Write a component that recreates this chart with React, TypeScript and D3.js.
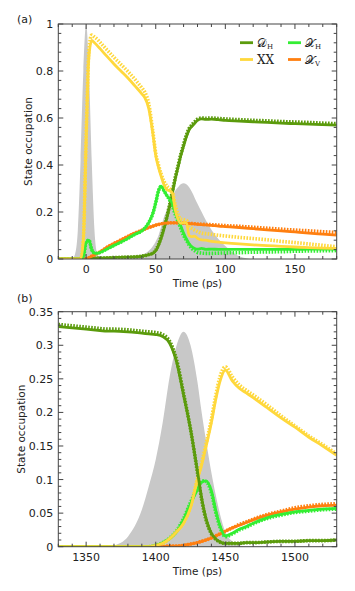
import React, { useEffect, useRef } from "react";
import * as d3 from "d3";

// ---- panel (a) data: time grid (ps) and occupations ----
const aTime = [-20, -10, -8, -6, -4, -2, 0, 2, 4, 6, 8, 10, 15, 20, 25, 30, 35, 40, 42, 45, 48, 50, 52, 54, 56, 58, 60, 62, 64, 66, 68, 70, 72, 74, 76, 78, 80, 83, 86, 90, 95, 100, 110, 120, 130, 140, 150, 160, 170, 180];
const aPulse = [0, 0, 0.02, 0.12, 0.42, 0.8, 1, 0.8, 0.42, 0.12, 0.02, 0, 0, 0, 0, 0, 0.003, 0.015, 0.022, 0.035, 0.055, 0.075, 0.1, 0.14, 0.18, 0.21, 0.24, 0.265, 0.29, 0.305, 0.318, 0.322, 0.318, 0.305, 0.285, 0.26, 0.235, 0.2, 0.165, 0.125, 0.085, 0.055, 0.012, 0, 0, 0, 0, 0, 0, 0];
const aXX = [0, 0, 0, 0, 0, 0.08, 0.5, 0.86, 0.93, 0.92, 0.908, 0.895, 0.862, 0.83, 0.8, 0.77, 0.737, 0.703, 0.688, 0.64, 0.53, 0.44, 0.39, 0.35, 0.315, 0.295, 0.29, 0.28, 0.21, 0.17, 0.152, 0.155, 0.155, 0.1, 0.095, 0.097, 0.088, 0.081, 0.08, 0.075, 0.072, 0.069, 0.064, 0.06, 0.057, 0.054, 0.051, 0.048, 0.046, 0.045];
const aXXdot = [0, 0, 0, 0, 0, 0.08, 0.52, 0.89, 0.953, 0.945, 0.935, 0.922, 0.89, 0.858, 0.828, 0.798, 0.765, 0.728, 0.712, 0.66, 0.54, 0.45, 0.4, 0.36, 0.33, 0.31, 0.3, 0.285, 0.23, 0.19, 0.17, 0.168, 0.165, 0.14, 0.13, 0.123, 0.117, 0.11, 0.108, 0.105, 0.101, 0.098, 0.092, 0.087, 0.082, 0.075, 0.07, 0.064, 0.058, 0.052];
const aDH = [0, 0, 0, 0, 0, 0, 0, 0.002, 0.003, 0.003, 0.004, 0.004, 0.005, 0.006, 0.007, 0.008, 0.009, 0.012, 0.014, 0.018, 0.024, 0.035, 0.058, 0.09, 0.13, 0.175, 0.225, 0.282, 0.34, 0.39, 0.44, 0.48, 0.52, 0.55, 0.565, 0.578, 0.59, 0.596, 0.594, 0.595, 0.593, 0.59, 0.587, 0.584, 0.581, 0.578, 0.576, 0.574, 0.572, 0.57];
const aDHdot = [0, 0, 0, 0, 0, 0, 0, 0.002, 0.003, 0.003, 0.004, 0.004, 0.005, 0.006, 0.007, 0.008, 0.009, 0.012, 0.014, 0.019, 0.026, 0.038, 0.062, 0.095, 0.135, 0.18, 0.232, 0.29, 0.346, 0.396, 0.446, 0.487, 0.527, 0.556, 0.571, 0.584, 0.595, 0.6, 0.599, 0.6, 0.598, 0.596, 0.593, 0.59, 0.588, 0.585, 0.583, 0.581, 0.578, 0.576];
const aXH = [0, 0, 0, 0, 0, 0.01, 0.07, 0.08, 0.04, 0.025, 0.024, 0.028, 0.043, 0.058, 0.072, 0.088, 0.105, 0.12, 0.13, 0.155, 0.195, 0.24, 0.29, 0.31, 0.29, 0.27, 0.255, 0.235, 0.2, 0.17, 0.14, 0.11, 0.085, 0.065, 0.052, 0.045, 0.042, 0.045, 0.041, 0.042, 0.041, 0.041, 0.041, 0.041, 0.041, 0.041, 0.041, 0.042, 0.042, 0.042];
const aXHdot = [0, 0, 0, 0, 0, 0.01, 0.07, 0.08, 0.04, 0.025, 0.024, 0.028, 0.043, 0.058, 0.072, 0.088, 0.105, 0.12, 0.13, 0.155, 0.195, 0.24, 0.29, 0.31, 0.29, 0.27, 0.25, 0.225, 0.19, 0.16, 0.13, 0.1, 0.08, 0.06, 0.045, 0.035, 0.028, 0.025, 0.024, 0.024, 0.025, 0.026, 0.027, 0.029, 0.03, 0.031, 0.033, 0.034, 0.035, 0.036];
const aXV = [0, 0, 0, 0, 0, 0, 0, 0.005, 0.012, 0.018, 0.024, 0.03, 0.05, 0.066, 0.081, 0.096, 0.11, 0.122, 0.127, 0.134, 0.14, 0.144, 0.147, 0.15, 0.152, 0.153, 0.154, 0.154, 0.154, 0.154, 0.153, 0.153, 0.152, 0.151, 0.15, 0.149, 0.147, 0.146, 0.145, 0.143, 0.14, 0.138, 0.134, 0.129, 0.124, 0.12, 0.115, 0.11, 0.106, 0.102];
const aXVdot = [0, 0, 0, 0, 0, 0, 0, 0.005, 0.012, 0.018, 0.024, 0.03, 0.05, 0.066, 0.081, 0.096, 0.11, 0.122, 0.127, 0.134, 0.14, 0.144, 0.147, 0.15, 0.152, 0.153, 0.154, 0.154, 0.154, 0.154, 0.153, 0.153, 0.152, 0.151, 0.151, 0.15, 0.149, 0.148, 0.147, 0.146, 0.144, 0.142, 0.139, 0.135, 0.131, 0.127, 0.123, 0.12, 0.116, 0.113];

// ---- panel (b) data ----
const bTime = [1330, 1340, 1350, 1360, 1365, 1370, 1380, 1390, 1395, 1400, 1405, 1410, 1415, 1420, 1425, 1430, 1433, 1436, 1440, 1443, 1446, 1450, 1455, 1460, 1465, 1470, 1480, 1490, 1500, 1510, 1520, 1530];
const bPulse = [0, 0, 0, 0, 0, 0.002, 0.015, 0.055, 0.09, 0.13, 0.185, 0.253, 0.3, 0.32, 0.3, 0.245, 0.2, 0.16, 0.11, 0.078, 0.05, 0.022, 0.008, 0.002, 0, 0, 0, 0, 0, 0, 0, 0];
const bDH = [0.328, 0.326, 0.324, 0.322, 0.321, 0.321, 0.32, 0.318, 0.317, 0.316, 0.313, 0.303, 0.275, 0.226, 0.175, 0.112, 0.072, 0.043, 0.02, 0.012, 0.0075, 0.005, 0.005, 0.005, 0.006, 0.006, 0.007, 0.008, 0.008, 0.009, 0.009, 0.01];
const bDHdot = [0.331, 0.329, 0.327, 0.325, 0.324, 0.324, 0.323, 0.321, 0.32, 0.319, 0.316, 0.306, 0.278, 0.228, 0.175, 0.11, 0.07, 0.041, 0.019, 0.011, 0.007, 0.005, 0.005, 0.005, 0.006, 0.006, 0.007, 0.008, 0.008, 0.009, 0.009, 0.01];
const bXX = [0, 0, 0, 0, 0, 0, 0, 0, 0, 0.002, 0.005, 0.012, 0.022, 0.035, 0.058, 0.1, 0.122, 0.148, 0.185, 0.218, 0.245, 0.263, 0.247, 0.236, 0.229, 0.222, 0.207, 0.192, 0.178, 0.163, 0.15, 0.136];
const bXXdot = [0, 0, 0, 0, 0, 0, 0, 0, 0, 0.002, 0.005, 0.012, 0.023, 0.036, 0.06, 0.102, 0.125, 0.152, 0.19, 0.224, 0.252, 0.268, 0.253, 0.241, 0.233, 0.226, 0.211, 0.195, 0.18, 0.165, 0.152, 0.138];
const bXH = [0, 0, 0, 0, 0, 0, 0, 0, 0, 0.002, 0.006, 0.012, 0.022, 0.04, 0.064, 0.085, 0.096, 0.098, 0.083, 0.055, 0.032, 0.016, 0.02, 0.026, 0.03, 0.035, 0.043, 0.048, 0.052, 0.054, 0.056, 0.057];
const bXHdot = [0, 0, 0, 0, 0, 0, 0, 0, 0, 0.002, 0.006, 0.013, 0.024, 0.042, 0.066, 0.087, 0.098, 0.097, 0.08, 0.052, 0.03, 0.015, 0.019, 0.025, 0.029, 0.034, 0.042, 0.047, 0.051, 0.053, 0.055, 0.056];
const bXV = [0, 0, 0, 0, 0, 0, 0, 0, 0, 0, 0, 0.001, 0.001, 0.002, 0.004, 0.006, 0.008, 0.01, 0.013, 0.016, 0.019, 0.023, 0.028, 0.032, 0.036, 0.04, 0.047, 0.052, 0.056, 0.059, 0.061, 0.062];
const bXVdot = [0, 0, 0, 0, 0, 0, 0, 0, 0, 0, 0, 0.001, 0.001, 0.002, 0.004, 0.006, 0.008, 0.01, 0.013, 0.016, 0.019, 0.023, 0.028, 0.033, 0.037, 0.041, 0.048, 0.053, 0.058, 0.061, 0.063, 0.064];

// ---- ticks ----
const aXTicks = [0, 50, 100, 150];
const aYTicks = [0, 0.2, 0.4, 0.6, 0.8, 1];
const aYTickLabels = ["0", "0.2", "0.4", "0.6", "0.8", "1"];
const bXTicks = [1350, 1400, 1450, 1500];
const bYTicks = [0, 0.05, 0.1, 0.15, 0.2, 0.25, 0.3, 0.35];
const bYTickLabels = ["0", "0.05", "0.1", "0.15", "0.2", "0.25", "0.3", "0.35"];

const legendLabels = ["𝒟", "𝒳", "XX", "𝒳"];
const legendSubs = ["H", "H", "", "V"];

const C_DH = "#5b9b0c";
const C_XH = "#33ee33";
const C_XX = "#ffd83c";
const C_XV = "#ff7f10";
const C_PULSE = "#c8c8c8";
const AXIS = "#444";

const App = () => {
  const svgRef = useRef<SVGSVGElement>(null);

  useEffect(() => {
    const svg = d3.select(svgRef.current);
    svg.selectAll("*").remove();

    const drawPanel = (opts: any) => {
      const { top, xDomain, yDomain, xTicks, xMinor, yTicks, yLabels, yMinor, time, pulse, series, tag, tagY, id } = opts;
      const left = 58.3;
      const width = 278.4;
      const height = 235;

      const x = d3.scaleLinear().domain(xDomain).range([left, left + width]);
      const y = d3.scaleLinear().domain(yDomain).range([top + height, top]);

      svg.append("defs")
        .append("clipPath")
        .attr("id", id)
        .append("rect")
        .attr("x", left)
        .attr("y", top - 2)
        .attr("width", width)
        .attr("height", height + 2);

      const plot = svg.append("g").attr("clip-path", `url(#${id})`);

      // excitation pulse
      const area = d3
        .area<number>()
        .x((d, i) => x(time[i]))
        .y0(y(0))
        .y1((d) => y(d))
        .curve(d3.curveMonotoneX);
      plot.append("path").datum(pulse).attr("fill", C_PULSE).attr("d", area);

      const line = d3
        .line<number>()
        .x((d, i) => x(time[i]))
        .y((d) => y(d))
        .curve(d3.curveMonotoneX);

      // dotted curves under the solid ones
      series.forEach((s: any) => {
        plot.append("path")
          .datum(s.dot)
          .attr("fill", "none")
          .attr("stroke", s.color)
          .attr("stroke-width", 3.6)
          .attr("stroke-dasharray", "1.6,1.4")
          .attr("d", line);
      });
      series.forEach((s: any) => {
        plot.append("path")
          .datum(s.values)
          .attr("fill", "none")
          .attr("stroke", s.color)
          .attr("stroke-width", 2.8)
          .attr("stroke-linejoin", "round")
          .attr("d", line);
      });

      // frame and inward ticks on all sides
      const axes = svg.append("g").attr("stroke", AXIS).attr("stroke-width", 1);
      axes.append("rect")
        .attr("x", left)
        .attr("y", top)
        .attr("width", width)
        .attr("height", height)
        .attr("fill", "none");

      const xMinorTicks = d3.range(xDomain[0], xDomain[1] + 0.001, xMinor);
      xMinorTicks.forEach((t: number) => {
        const len = xTicks.includes(t) ? 5 : 3;
        axes.append("line").attr("x1", x(t)).attr("x2", x(t)).attr("y1", top + height).attr("y2", top + height - len);
        axes.append("line").attr("x1", x(t)).attr("x2", x(t)).attr("y1", top).attr("y2", top + len);
      });
      const yMinorTicks = d3.range(0, Math.round((yDomain[1] - yDomain[0]) / yMinor) + 1).map((k) => yDomain[0] + k * yMinor);
      yMinorTicks.forEach((v: number) => {
        const major = yTicks.some((t: number) => Math.abs(t - v) < 1e-9);
        const len = major ? 5 : 3;
        axes.append("line").attr("x1", left).attr("x2", left + len).attr("y1", y(v)).attr("y2", y(v));
        axes.append("line").attr("x1", left + width).attr("x2", left + width - len).attr("y1", y(v)).attr("y2", y(v));
      });

      const labels = svg.append("g")
        .style("font-family", "'DejaVu Sans', Verdana, sans-serif")
        .style("font-size", "11px")
        .attr("fill", "#222");

      xTicks.forEach((t: number) => {
        labels.append("text")
          .attr("x", x(t))
          .attr("y", top + height + 14)
          .attr("text-anchor", "middle")
          .text(String(t));
      });
      yTicks.forEach((t: number, i: number) => {
        labels.append("text")
          .attr("x", left - 5)
          .attr("y", y(t) + 4)
          .attr("text-anchor", "end")
          .text(yLabels[i]);
      });

      labels.append("text")
        .attr("x", left + width / 2)
        .attr("y", top + height + 28)
        .attr("text-anchor", "middle")
        .style("font-size", "10.5px")
        .text("Time (ps)");

      labels.append("text")
        .attr("transform", `translate(${opts.yTitleX},${top + height / 2}) rotate(-90)`)
        .attr("text-anchor", "middle")
        .style("font-size", "10.5px")
        .text("State occupation");

      labels.append("text")
        .attr("x", 17)
        .attr("y", tagY)
        .style("font-size", "11px")
        .text(tag);
    };

    drawPanel({
      id: "clip-a",
      top: 24,
      xDomain: [-20, 180],
      xTicks: aXTicks,
      xMinor: 10,
      yDomain: [0, 1],
      yTicks: aYTicks,
      yLabels: aYTickLabels,
      yMinor: 0.04,
      time: aTime,
      pulse: aPulse,
      tag: "(a)",
      tagY: 23,
      yTitleX: 32,
      series: [
        { values: aDH, dot: aDHdot, color: C_DH },
        { values: aXV, dot: aXVdot, color: C_XV },
        { values: aXH, dot: aXHdot, color: C_XH },
        { values: aXX, dot: aXXdot, color: C_XX },
      ],
    });

    drawPanel({
      id: "clip-b",
      top: 311.7,
      xDomain: [1330, 1530],
      xTicks: bXTicks,
      xMinor: 10,
      yDomain: [0, 0.35],
      yTicks: bYTicks,
      yLabels: bYTickLabels,
      yMinor: 0.01,
      time: bTime,
      pulse: bPulse,
      tag: "(b)",
      tagY: 301.5,
      yTitleX: 25,
      series: [
        { values: bXV, dot: bXVdot, color: C_XV },
        { values: bXH, dot: bXHdot, color: C_XH },
        { values: bXX, dot: bXXdot, color: C_XX },
        { values: bDH, dot: bDHdot, color: C_DH },
      ],
    });

    // legend of panel (a)
    const legendColors = [C_DH, C_XH, C_XX, C_XV];
    const legend = svg.append("g")
      .style("font-family", "'DejaVu Serif', 'Liberation Serif', serif")
      .style("font-size", "12px")
      .attr("fill", "#222");
    legendLabels.forEach((lab, i) => {
      const col = i % 2;
      const row = Math.floor(i / 2);
      const lx = col === 0 ? 240 : 288;
      const ly = row === 0 ? 42.7 : 59.5;
      legend.append("line")
        .attr("x1", lx)
        .attr("x2", lx + 13)
        .attr("y1", ly)
        .attr("y2", ly)
        .attr("stroke", legendColors[i])
        .attr("stroke-width", 2.8);
      const t = legend.append("text").attr("x", lx + 17).attr("y", ly + 4);
      t.append("tspan").text(lab);
      if (legendSubs[i]) {
        t.append("tspan")
          .attr("dy", 2)
          .style("font-size", "7px")
          .text(legendSubs[i]);
      }
    });
  }, []);

  return (
    <div style={{ position: "absolute", left: 0, top: 0, background: "#fff" }}>
      <svg ref={svgRef} width={355} height={591} style={{ display: "block" }} />
    </div>
  );
};

export default App;
